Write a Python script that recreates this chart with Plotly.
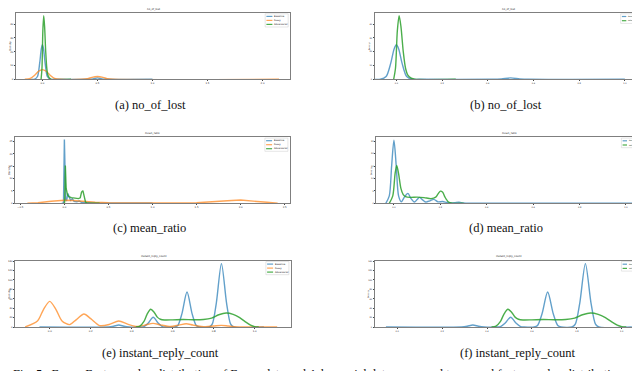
import plotly.graph_objects as go

W, H = 640, 371

# ---------------- data ----------------
# no_of_lost (panels a, b)
LOST_BASE_X = [-0.1, -0.07, -0.045, -0.025, -0.01, 0.0, 0.01, 0.025, 0.045, 0.07, 0.1, 0.42, 0.46, 0.5, 0.54, 0.58, 1.0]
LOST_BASE_Y = [0, 0.05, 2, 11.5, 22, 25, 22, 11.5, 2, 0.05, 0, 0, 0.3, 1.0, 0.3, 0, 0]
LOST_FUZZY_X = [-0.16, -0.11, -0.07, -0.035, 0.0, 0.035, 0.07, 0.11, 0.16, 0.36, 0.41, 0.45, 0.5, 0.55, 0.59, 0.64, 2.15]
LOST_FUZZY_Y = [0, 0.7, 3, 5.8, 7, 5.8, 3, 0.7, 0, 0, 0.4, 1.4, 2.0, 1.4, 0.4, 0, 0]
LOST_ADV_X = [-0.012, -0.004, 0.004, 0.012, 0.02, 0.03, 0.04, 0.05, 0.065, 0.08, 0.26]
LOST_ADV_Y = [0, 8, 35, 46, 38, 20, 8, 3, 0.8, 0, 0]

# mean_ratio, fuzzy comparison (panel c)
C_BASE_X = [-0.03, -0.01, 0.0, 0.008, 0.015, 0.025, 0.04, 0.055, 0.07, 0.09, 0.11, 0.14, 0.17, 0.2, 0.24, 0.3, 0.4, 1.0]
C_BASE_Y = [0, 0.2, 25.7, 12, 1.5, 1.0, 4.0, 2.5, 1.2, 1.8, 0.8, 0.6, 0.9, 0.3, 0.2, 0.05, 0, 0]
C_FUZZY_X = [-0.42, -0.3, -0.15, 0.0, 0.1, 0.2, 0.35, 0.5, 0.8, 1.2, 1.5, 1.7, 1.85, 2.0, 2.15, 2.3, 2.42]
C_FUZZY_Y = [0, 0.2, 0.8, 1.2, 1.1, 0.8, 0.4, 0.2, 0.1, 0.1, 0.2, 0.5, 1.0, 1.3, 1.0, 0.4, 0.05]
C_ADV_X = [-0.005, 0.003, 0.011, 0.02, 0.035, 0.05, 0.08, 0.12, 0.16, 0.18, 0.195, 0.21, 0.225, 0.24, 0.26, 0.4]
C_ADV_Y = [0, 0.5, 15.2, 6, 3.5, 2.7, 2.3, 2.2, 1.9, 2.2, 4.5, 5.1, 3, 0.5, 0, 0]

# mean_ratio, adversarial comparison (panel d)
D_BASE_X = [-0.035, -0.02, -0.01, 0.0, 0.01, 0.02, 0.032, 0.045, 0.06, 0.073, 0.088, 0.1, 0.11, 0.122,
            0.137, 0.155, 0.172, 0.19, 0.21, 0.23, 0.26, 0.28, 0.3, 0.33, 1.03]
D_BASE_Y = [0, 3, 15, 25.4, 15, 3, 0.6, 2.5, 4.0, 2.0, 0.5, 1.5, 2.4, 1.5,
            0.5, 1.0, 1.6, 0.6, 0.7, 0.3, 0.2, 0.4, 0.1, 0, 0]
D_ADV_X = [-0.02, -0.005, 0.005, 0.012, 0.02, 0.03, 0.04, 0.05, 0.07, 0.1, 0.13, 0.16, 0.18, 0.19,
           0.2, 0.21, 0.22, 0.235, 0.25, 0.3]
D_ADV_Y = [0, 3, 12, 15.3, 12, 6, 3.5, 2.7, 2.4, 2.5, 2.3, 1.9, 2.5, 3.8,
           4.9, 4.5, 2.5, 0.5, 0.05, 0]

# instant_reply_count (panels e, f)
IRC_BASE_X = [-0.05, 0.287, 0.312, 0.337, 0.362, 0.387, 0.445, 0.46, 0.48, 0.505, 0.53, 0.55, 0.565,
              0.61, 0.625, 0.645, 0.67, 0.695, 0.715, 0.73, 0.778, 0.793, 0.813, 0.838, 0.863, 0.883, 0.898, 1.045]
IRC_BASE_Y = [0, 0, 1.6, 4.3, 1.6, 0, 0, 0.9, 7.8, 20.6, 7.8, 0.9, 0,
              0, 3.3, 28, 74.5, 28, 3.3, 0, 0, 6, 51, 134.8, 51, 6, 0, 0]
IRC_FUZZY_X = [-0.12, -0.06, -0.03, 0.0, 0.03, 0.06, 0.097, 0.13, 0.167, 0.2, 0.243, 0.29, 0.337, 0.38,
               0.42, 0.46, 0.504, 0.54, 0.59, 0.63, 0.666, 0.7, 0.76, 0.8, 0.837, 0.87, 0.9, 0.95, 1.11]
IRC_FUZZY_Y = [0.2, 12.6, 37.7, 54.6, 37.7, 12.9, 5, 15.8, 27.7, 17.7, 3, 5.2, 12.8, 6,
               1.2, 3.5, 7.8, 4.6, 1.1, 4.1, 7, 4.1, 0.5, 2, 3.5, 2.1, 0.7, 0.1, 0]
IRC_ADV_X = [0.42, 0.44, 0.46, 0.475, 0.493, 0.51, 0.525, 0.54, 0.56, 0.6, 0.65, 0.7, 0.75, 0.79,
             0.825, 0.861, 0.895, 0.927, 0.955, 0.98, 1.0, 1.02]
IRC_ADV_Y = [0, 2, 12, 27, 37.6, 31, 21, 16.5, 15, 15.2, 15.8, 15.5, 16, 19,
             26, 29.8, 27, 20, 11, 4, 0.8, 0]

TICKS_LOST_A = [0.0, 0.5, 1.0, 1.5, 2.0]
TICKS_UNIT = [0.0, 0.2, 0.4, 0.6, 0.8, 1.0]
TICKS_MEAN_C = [-0.5, 0.0, 0.5, 1.0, 1.5, 2.0, 2.5]
YTICKS_LOST = [0, 10, 20, 30, 40]
YTICKS_MEAN = [0, 5, 10, 15, 20, 25]
YTICKS_IRC = [0, 20, 40, 60, 80, 100, 120, 140]

NAMES = {"b": "Baseline", "f": "Fuzzy", "a": "Adversarial"}
COLORS = {"b": "rgba(31,119,180,0.7)", "f": "rgba(255,127,14,0.7)", "a": "rgba(44,160,44,0.85)"}

CAPTION = ("Fig. 5.  Fuzzy Feature value distribution of Fuzzy data and Adversarial data "
           "compared to normal feature value distribution")

# ---------------- layout of panels ----------------
PANELS = [
    dict(frame=(8, 5, 282, 71.3), xr=(-0.24, 2.25), xt=TICKS_LOST_A, yr=(0, 48), yt=YTICKS_LOST,
         title="no_of_lost", shape="spline", fs=2.5,
         series=[("b", LOST_BASE_X, LOST_BASE_Y), ("f", LOST_FUZZY_X, LOST_FUZZY_Y), ("a", LOST_ADV_X, LOST_ADV_Y)],
         cap="(a) no_of_lost", capxy=(142, 97)),
    dict(frame=(366.7, 5, 633.3, 71.3), xr=(-0.095, 1.072), xt=TICKS_UNIT, yr=(0, 48), yt=YTICKS_LOST,
         title="no_of_lost", shape="spline", fs=2.1,
         series=[("b", LOST_BASE_X, LOST_BASE_Y), ("a", LOST_ADV_X, LOST_ADV_Y)],
         cap="(b) no_of_lost", capxy=(498, 97)),
    dict(frame=(7.3, 129.3, 281.7, 195.3), xr=(-0.557, 2.557), xt=TICKS_MEAN_C, yr=(0, 26.6), yt=YTICKS_MEAN,
         title="mean_ratio", shape="linear", fs=2.5,
         series=[("b", C_BASE_X, C_BASE_Y), ("f", C_FUZZY_X, C_FUZZY_Y), ("a", C_ADV_X, C_ADV_Y)],
         cap="(c) mean_ratio", capxy=(141, 220)),
    dict(frame=(368.3, 129.3, 634, 195.3), xr=(-0.076, 1.069), xt=TICKS_UNIT, yr=(0, 26.6), yt=YTICKS_MEAN,
         title="mean_ratio", shape="spline", fs=2.1,
         series=[("b", D_BASE_X, D_BASE_Y), ("a", D_ADV_X, D_ADV_Y)],
         cap="(d) mean_ratio", capxy=(498, 220)),
    dict(frame=(7.3, 252.7, 282.7, 319), xr=(-0.168, 1.176), xt=TICKS_UNIT, yr=(0, 141), yt=YTICKS_IRC,
         title="instant_reply_count", shape="spline", fs=2.5,
         series=[("b", IRC_BASE_X, IRC_BASE_Y), ("f", IRC_FUZZY_X, IRC_FUZZY_Y), ("a", IRC_ADV_X, IRC_ADV_Y)],
         cap="(e) instant_reply_count", capxy=(152, 345)),
    dict(frame=(366.7, 252.7, 634, 319), xr=(-0.1, 1.09), xt=TICKS_UNIT, yr=(0, 141), yt=YTICKS_IRC,
         title="instant_reply_count", shape="spline", fs=2.1,
         series=[("b", IRC_BASE_X, IRC_BASE_Y), ("a", IRC_ADV_X, IRC_ADV_Y)],
         cap="(f) instant_reply_count", capxy=(509, 345)),
]


def px(x):
    return x / W


def py(y):
    return 1 - y / H


def fmt_x(v):
    s = f"{v:.1f}"
    return s.replace("-", "\u2212")


fig = go.Figure()
shapes = []
annotations = []
FRAME_COLOR = "#7f7f7f"
TEXT_FONT = "DejaVu Sans"

for i, p in enumerate(PANELS, start=1):
    sfx = "" if i == 1 else str(i)
    x0, y0, x1, y1 = p["frame"]
    fs = p["fs"]
    for key, xs, ys in p["series"]:
        fig.add_trace(go.Scatter(
            x=xs, y=ys, mode="lines", name=NAMES[key],
            line=dict(color=COLORS[key], width=1.4, shape=p["shape"], smoothing=0.8),
            xaxis="x" + sfx, yaxis="y" + sfx, showlegend=False, hoverinfo="skip"))
    axis_common = dict(showline=True, mirror=True, linecolor=FRAME_COLOR, linewidth=0.8,
                       showgrid=False, zeroline=False, ticks="outside", ticklen=1.2,
                       tickwidth=0.5, tickcolor="#444", tickfont=dict(size=fs, color="#222", family=TEXT_FONT))
    fig.layout["xaxis" + sfx] = dict(domain=[px(x0), px(x1)], range=list(p["xr"]), anchor="y" + sfx,
                                     tickvals=p["xt"], ticktext=[fmt_x(v) for v in p["xt"]], **axis_common)
    fig.layout["yaxis" + sfx] = dict(domain=[py(y1), py(y0)], range=list(p["yr"]), anchor="x" + sfx,
                                     tickvals=p["yt"], ticktext=[str(v) for v in p["yt"]], **axis_common)
    # subplot title
    annotations.append(dict(x=px((x0 + x1) / 2), y=py(y0 - 0.5), xref="paper", yref="paper",
                            text=p["title"], showarrow=False, xanchor="center", yanchor="bottom",
                            font=dict(size=2.6, color="#222", family=TEXT_FONT)))
    # y-axis title
    annotations.append(dict(x=px(x0 - 5.5), y=py((y0 + y1) / 2), xref="paper", yref="paper",
                            text="Density", showarrow=False, textangle=-90, xanchor="center",
                            yanchor="middle", font=dict(size=fs, color="#222", family=TEXT_FONT)))
    # legend (drawn manually)
    n = len(p["series"])
    left = fs > 2.3
    bw = 23 if left else 18
    row = 4.0 if left else 4.2
    lfs = 2.4 if left else 1.9
    bx1 = x1 - (1.8 if left else 2.6)
    bx0 = bx1 - bw
    by0 = y0 + 0.8
    by1 = by0 + row * n + 1.2
    shapes.append(dict(type="rect", xref="paper", yref="paper", x0=px(bx0), x1=px(bx1),
                       y0=py(by1), y1=py(by0), line=dict(color="#cccccc", width=0.5),
                       fillcolor="rgba(255,255,255,0.8)", layer="above"))
    for j, (key, _, _) in enumerate(p["series"]):
        ry = by0 + 0.6 + row * (j + 0.5)
        seg = 6.0 if left else 4.4
        shapes.append(dict(type="line", xref="paper", yref="paper", x0=px(bx0 + 1.2), x1=px(bx0 + 1.2 + seg),
                           y0=py(ry), y1=py(ry), line=dict(color=COLORS[key], width=1.2), layer="above"))
        annotations.append(dict(x=px(bx0 + 1.8 + seg), y=py(ry), xref="paper", yref="paper",
                                text=NAMES[key], showarrow=False, xanchor="left", yanchor="middle",
                                borderpad=0, font=dict(size=lfs, color="#222", family=TEXT_FONT)))
    # caption
    cx, cy = p["capxy"]
    annotations.append(dict(x=px(cx), y=py(cy), xref="paper", yref="paper", text=p["cap"],
                            showarrow=False, xanchor="center", yanchor="middle",
                            font=dict(size=12.5, color="#111", family="Liberation Serif")))

annotations.append(dict(x=px(3), y=py(365.5), xref="paper", yref="paper", text=CAPTION,
                        showarrow=False, xanchor="left", yanchor="middle",
                        font=dict(size=12.5, color="#111", family="Liberation Serif")))

fig.update_layout(width=W, height=H, autosize=False, margin=dict(l=0, r=0, t=0, b=0, autoexpand=False),
                  paper_bgcolor="white", plot_bgcolor="white", showlegend=False,
                  shapes=shapes, annotations=annotations)

fig.write_html("out.html")
